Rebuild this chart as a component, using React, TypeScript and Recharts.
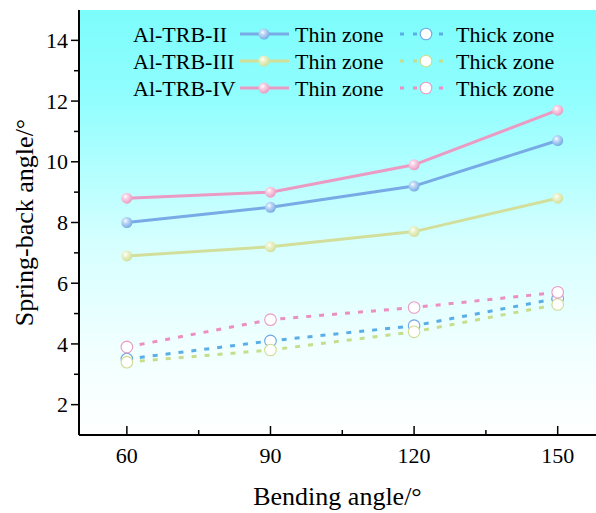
import React from 'react'
import { CartesianGrid, Label, Legend, Line, LineChart, XAxis, YAxis } from 'recharts'

const FONT = '"Liberation Serif", "Times New Roman", serif'

// values
const bendingAngles = [60, 90, 120, 150]
const groupNames = ['Al-TRB-II', 'Al-TRB-III', 'Al-TRB-IV']
const thinII = [8.0, 8.5, 9.2, 10.7]
const thinIII = [6.9, 7.2, 7.7, 8.8]
const thinIV = [8.8, 9.0, 9.9, 11.7]
const thickII = [3.5, 4.1, 4.6, 5.5]
const thickIII = [3.4, 3.8, 4.4, 5.3]
const thickIV = [3.9, 4.8, 5.2, 5.7]

const xMajorTicks = [60, 90, 120, 150]
const xMinorTicks = [75, 105, 135]
const yMajorTicks = [2, 4, 6, 8, 10, 12, 14]
const yMinorTicks = [3, 5, 7, 9, 11, 13]

const data = bendingAngles.map((angle, i) => ({
  angle,
  thinII: thinII[i],
  thinIII: thinIII[i],
  thinIV: thinIV[i],
  thickII: thickII[i],
  thickIII: thickIII[i],
  thickIV: thickIV[i],
}))

const palette = [
  { thin: '#78abe5', light: '#c4dcf6', thick: '#5aaee8', ring: '#6ea8e2' },
  { thin: '#d2df9a', light: '#eef4d2', thick: '#c6de8c', ring: '#cfdc90' },
  { thin: '#eb9bc3', light: '#f8d6e7', thick: '#ea8fbf', ring: '#ec9ac2' },
]

const thinKeys = ['thinII', 'thinIII', 'thinIV']
const thickKeys = ['thickII', 'thickIII', 'thickIV']

const DASH = '5 8'

const yTicks = [...yMajorTicks, ...yMinorTicks].sort((a, b) => a - b)
const xTicks = [...xMajorTicks, ...xMinorTicks].sort((a, b) => a - b)

const Y_TICK_SIZE = 8
const Y_TICK_MARGIN = 3
const X_TICK_MARGIN = 12

function YTick(props: any) {
  const { x, y, payload } = props
  const axisX = x + Y_TICK_SIZE + Y_TICK_MARGIN
  const major = yMajorTicks.includes(payload.value)
  return (
    <g>
      <line x1={axisX} x2={axisX - (major ? 8 : 5)} y1={y} y2={y} stroke='#000' strokeWidth={1.5} />
      {major && (
        <text x={x} y={y} dy='0.35em' textAnchor='end' fontFamily={FONT} fontSize={22} fill='#000'>
          {payload.value}
        </text>
      )}
    </g>
  )
}

function XTick(props: any) {
  const { x, y, payload } = props
  const axisY = y - X_TICK_MARGIN
  const major = xMajorTicks.includes(payload.value)
  return (
    <g>
      <line x1={x} x2={x} y1={axisY} y2={axisY - (major ? 9 : 5)} stroke='#000' strokeWidth={1.5} />
      {major && (
        <text x={x} y={y} dy='0.71em' textAnchor='middle' fontFamily={FONT} fontSize={22} fill='#000'>
          {payload.value}
        </text>
      )}
    </g>
  )
}

function ballDot(idx: number) {
  return (props: any) => {
    const { cx, cy, index } = props
    if (cx == null || cy == null) return <g key={`b${idx}-${index}`} />
    return <circle key={`b${idx}-${index}`} cx={cx} cy={cy} r={5.5} fill={`url(#ball${idx})`} />
  }
}

function ringDot(idx: number) {
  return (props: any) => {
    const { cx, cy, index } = props
    if (cx == null || cy == null) return <g key={`r${idx}-${index}`} />
    return (
      <circle key={`r${idx}-${index}`} cx={cx} cy={cy} r={5.8} fill='#fff' stroke={palette[idx].ring} strokeWidth={1.1} />
    )
  }
}

function LegendBox() {
  return (
    <svg width={596} height={100} style={{ display: 'block' }}>
      <defs>
        {palette.map((c, i) => (
          <radialGradient key={i} id={`lball${i}`} cx='38%' cy='35%' r='65%'>
            <stop offset='0%' stopColor='#ffffff' />
            <stop offset='30%' stopColor={c.light} />
            <stop offset='100%' stopColor={c.thin} />
          </radialGradient>
        ))}
      </defs>
      {groupNames.map((name, i) => {
        const cy = 34 + i * 27
        const c = palette[i]
        return (
          <g key={name}>
            <text x={133} y={cy} dy='0.35em' fontFamily={FONT} fontSize={22} fill='#000'>
              {name}
            </text>
            <line x1={240} x2={289} y1={cy} y2={cy} stroke={c.thin} strokeWidth={3} />
            <circle cx={264} cy={cy} r={5.5} fill={`url(#lball${i})`} />
            <text x={295} y={cy} dy='0.35em' fontFamily={FONT} fontSize={22} fill='#000'>
              Thin zone
            </text>
            <line x1={400} x2={446} y1={cy} y2={cy} stroke={c.thick} strokeWidth={3} strokeDasharray='4 9' />
            <circle cx={426} cy={cy} r={5.8} fill='#fff' stroke={c.ring} strokeWidth={1.1} />
            <text x={456} y={cy} dy='0.35em' fontFamily={FONT} fontSize={22} fill='#000'>
              Thick zone
            </text>
          </g>
        )
      })}
    </svg>
  )
}

export default function App() {
  return (
    <div style={{ position: 'absolute', left: 0, top: 0, width: 596, height: 513, background: '#fff', fontFamily: FONT }}>
      <LineChart width={596} height={513} data={data} margin={{ top: 10, right: 0, bottom: 0, left: 0 }}>
        <defs>
          <linearGradient id='bgGrad' x1='0' y1='0' x2='0' y2='1'>
            <stop offset='0%' stopColor='#7cfcfc' />
            <stop offset='22%' stopColor='#93fefe' />
            <stop offset='55%' stopColor='#d6ffff' />
            <stop offset='80%' stopColor='#f1ffff' />
            <stop offset='100%' stopColor='#ffffff' />
          </linearGradient>
          {palette.map((c, i) => (
            <radialGradient key={i} id={`ball${i}`} cx='38%' cy='35%' r='65%'>
              <stop offset='0%' stopColor='#ffffff' />
              <stop offset='30%' stopColor={c.light} />
              <stop offset='100%' stopColor={c.thin} />
            </radialGradient>
          ))}
        </defs>
        <CartesianGrid horizontal={false} vertical={false} fill='url(#bgGrad)' stroke='none' />
        <XAxis
          dataKey='angle'
          type='number'
          domain={[50, 158]}
          ticks={xTicks}
          interval={0}
          allowDataOverflow
          height={78}
          tickSize={0}
          tickMargin={X_TICK_MARGIN}
          tickLine={false}
          tick={<XTick />}
          axisLine={{ stroke: '#000', strokeWidth: 2 }}
        >
          <Label
            content={(p: any) => {
              const vb = p.viewBox
              return (
                <text x={vb.x + vb.width / 2} y={vb.y + 70} textAnchor='middle' fontFamily={FONT} fontSize={26} fill='#000'>
                  Bending angle/°
                </text>
              )
            }}
          />
        </XAxis>
        <XAxis
          xAxisId='top'
          orientation='top'
          dataKey='angle'
          type='number'
          domain={[50, 158]}
          height={0}
          tick={false}
          tickLine={false}
          axisLine={{ stroke: '#000', strokeWidth: 2 }}
        />
        <YAxis
          type='number'
          domain={[1, 15]}
          ticks={yTicks}
          interval={0}
          allowDataOverflow
          width={79}
          tickSize={Y_TICK_SIZE}
          tickMargin={Y_TICK_MARGIN}
          tickLine={false}
          tick={<YTick />}
          axisLine={{ stroke: '#000', strokeWidth: 2 }}
        >
          <Label
            content={(p: any) => {
              const vb = p.viewBox
              const cx = 33
              const cy = vb.y + vb.height / 2
              return (
                <text
                  x={cx}
                  y={cy}
                  textAnchor='middle'
                  transform={`rotate(-90, ${cx}, ${cy})`}
                  fontFamily={FONT}
                  fontSize={26}
                  fill='#000'
                >
                  Spring-back angle/°
                </text>
              )
            }}
          />
        </YAxis>
        <Legend
          layout='horizontal'
          verticalAlign='middle'
          align='center'
          wrapperStyle={{ position: 'absolute', left: 0, top: 0, width: 596, height: 100 }}
          content={() => <LegendBox />}
        />
        {thickKeys.map((key, i) => (
          <Line
            key={key}
            dataKey={key}
            type='linear'
            stroke={palette[i].thick}
            strokeWidth={3}
            strokeDasharray={DASH}
            dot={ringDot(i)}
            activeDot={false}
            isAnimationActive={false}
          />
        ))}
        {thinKeys.map((key, i) => (
          <Line
            key={key}
            dataKey={key}
            type='linear'
            stroke={palette[i].thin}
            strokeWidth={3}
            dot={ballDot(i)}
            activeDot={false}
            isAnimationActive={false}
          />
        ))}
      </LineChart>
    </div>
  )
}
